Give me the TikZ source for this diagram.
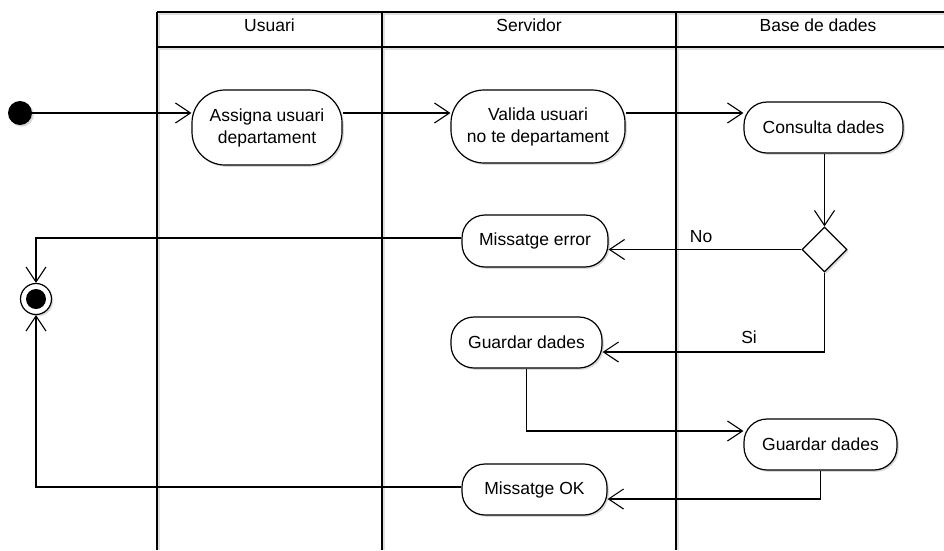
\documentclass[tikz,border=0pt]{standalone}
\usepackage{fontspec}
\setmainfont{Liberation Sans}
\usetikzlibrary{arrows.meta,shapes.geometric,shadows}
\begin{document}
\begin{tikzpicture}[x=1pt,y=-1pt,
  every node/.style={font=\fontsize{17.5pt}{22pt}\selectfont},
  lane/.style={line width=1.2pt},
  laneshadow/.style={line width=1.4pt, gray!25},
  nshadow/.style={drop shadow={shadow xshift=1.8pt,shadow yshift=-1.8pt,opacity=.3,fill=gray}},
  action/.style={draw, line width=1.2pt, fill=white, align=center, rectangle,
                 inner sep=0pt, rounded corners=#1, nshadow},
  action/.default=23pt,
  decision/.style={draw, diamond, aspect=1, minimum width=45pt, minimum height=45pt,
                   inner sep=0pt, line width=1.2pt, fill=white, nshadow},
  startnode/.style={circle, fill=black, minimum size=24pt, inner sep=0pt, nshadow},
  endnode/.style={draw, circle, minimum size=31pt, inner sep=0pt, fill=white, line width=1.2pt,
                  nshadow, path picture={\fill[black] (path picture bounding box.center) circle[radius=10pt];}},
  hdr/.style={anchor=base},
  lbl/.style={anchor=base},
  flow/.style={line width=1.2pt, -{Straight Barb[length=15pt,width=20pt,line width=1.1pt]}}
]
\useasboundingbox (0,0) rectangle (944,550);

% swimlane frame: shadows first, then the lines
\foreach \x in {157,382,676} \draw[laneshadow] (\x+2,14) -- (\x+2,550);
\draw[laneshadow] (159,14) -- (944,14);
\draw[laneshadow] (159,49) -- (944,49);
\draw[lane] (157,12) -- (944,12);
\draw[lane] (157,47) -- (944,47);
\foreach \x in {157,382,676} \draw[lane] (\x,12) -- (\x,550);

% lane headers
\node[hdr] (hUsuari)   at (269.5,31) {Usuari};
\node[hdr] (hServidor) at (529,31)   {Servidor};
\node[hdr] (hBase)     at (818,31)   {Base de dades};

% activity nodes
\node[startnode] (start) at (20,113) {};
\node[action=33pt, minimum width=150pt, minimum height=75pt] (assign) at (267,127.5) {Assigna usuari\\departament};
\node[action=33pt, minimum width=174pt, minimum height=73pt] (valida) at (538,126.5) {Valida usuari\\no te departament};
\node[action, minimum width=159pt, minimum height=51pt] (consulta) at (823.5,127.5) {Consulta dades};
\node[decision] (dec) at (824.5,249.5) {};
\node[action, minimum width=146pt, minimum height=52pt] (error) at (535,241) {Missatge error};
\node[action, minimum width=151pt, minimum height=51pt] (guardS) at (526.5,342.5) {Guardar dades};
\node[action, minimum width=153pt, minimum height=51pt] (guardD) at (820.5,444.5) {Guardar dades};
\node[action, minimum width=145pt, minimum height=51pt] (ok) at (534.5,489.5) {Missatge OK};
\node[endnode] (final) at (36,299) {};

% control flow
\draw[flow] (start) -- (start -| assign.west);
\draw[flow] (assign.east |- start) -- (valida.west |- start);
\draw[flow] (valida.east |- start) -- (consulta.west |- start);
\draw[flow] (dec.north |- consulta.south) -- (dec.north);
\draw[flow] (dec.west) -- (dec.west -| error.east)
  node[lbl, pos=0.52, yshift=7.5pt] {No};
\draw[flow] (dec.south) |- ([yshift=-9.5pt]guardS.east)
  node[lbl, pos=0.67, yshift=8.5pt] {Si};
\draw[flow] (guardS.south) |- ([yshift=13.5pt]guardD.west);
\draw[flow] (guardD.south) |- ([yshift=-9.5pt]ok.east);
\draw[flow] ([yshift=3pt]error.west) -| (final.north);
\draw[flow] ([yshift=2.5pt]ok.west) -| (final.south);
\end{tikzpicture}
\end{document}
